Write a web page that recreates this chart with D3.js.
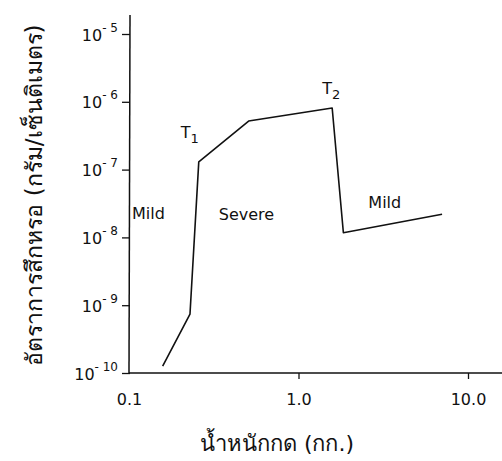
<!DOCTYPE html>
<html>
<head>
<meta charset="utf-8">
<script src="https://cdn.jsdelivr.net/npm/d3@7"></script>
<style>
  body { margin: 0; background: #fff; }
  svg { display: block; }
  .tick line { stroke: #111; stroke-width: 1.3; }
  .lbl { font-family: "DejaVu Sans", "Liberation Sans", sans-serif; fill: #111; }
</style>
</head>
<body>
<div class="svg-container"></div>
<script>
// page size
var pageWidth = 502,
    pageHeight = 461;

// plot box (pixel positions of the decades)
var x0 = 129, x1 = 468,     // 0.1 .. 10
    yTop = 34, yBot = 373;  // 1e-5 .. 1e-10

// data
var loadKg = [0.158, 0.229, 0.258, 0.508, 1.58, 1.84, 7.03];
var wearRate = [1.26e-10, 7.4e-10, 1.3e-7, 5.2e-7, 8.1e-7, 1.17e-8, 2.2e-8];

var xTickValues = [0.1, 1, 10];
var xTickLabels = ["0.1", "1.0", "10.0"];
var yTickValues = [1e-10, 1e-9, 1e-8, 1e-7, 1e-6, 1e-5];
var yTickExponents = ["-10", "-9", "-8", "-7", "-6", "-5"];

var regionLabels = ["Mild", "Severe", "Mild"];
var regionAt = [[0.1, 1.9e-8], [0.325, 1.8e-8], [2.48, 2.7e-8]];
var pointLabels = ["T", "T"];
var pointSubs = ["1", "2"];
var pointAt = [[0.202, 2.9e-7], [1.38, 1.3e-6]];

function plot() {
	var svg = d3.select(".svg-container")
		.append("svg")
		.attr("width", pageWidth)
		.attr("height", pageHeight);

	var xScale = d3.scaleLog().domain([0.1, 10]).range([x0, x1]);
	var yScale = d3.scaleLog().domain([1e-10, 1e-5]).range([yBot, yTop]);

	drawAxes(svg, xScale, yScale);
	drawLine(svg, xScale, yScale);
	drawLabels(svg, xScale, yScale);
}

function drawAxes(svg, x, y) {
	// axis lines
	svg.append("line")
		.attr("x1", x0 + 1).attr("x2", x0)
		.attr("y1", 15).attr("y2", yBot)
		.attr("stroke", "#111").attr("stroke-width", 1.5);
	svg.append("line")
		.attr("x1", x0).attr("x2", pageWidth)
		.attr("y1", yBot).attr("y2", yBot)
		.attr("stroke", "#111").attr("stroke-width", 1.5);

	// x axis
	var xAxis = d3.axisBottom(x)
		.tickValues(xTickValues)
		.tickSize(6)
		.tickPadding(15)
		.tickFormat(function(d, i) { return xTickLabels[i]; });
	var gx = svg.append("g")
		.attr("transform", "translate(0," + yBot + ")")
		.call(xAxis);
	gx.select(".domain").remove();
	gx.selectAll(".tick line").filter(function(d) { return d === 0.1; }).remove();
	gx.selectAll("text")
		.attr("class", "lbl")
		.style("font-size", "16px");

	// y axis
	var yAxis = d3.axisLeft(y)
		.tickValues(yTickValues)
		.tickSize(8)
		.tickPadding(4)
		.tickFormat(function() { return ""; });
	var gy = svg.append("g")
		.attr("transform", "translate(" + (x0 + 1) + ",0)")
		.call(yAxis);
	gy.select(".domain").remove();
	gy.selectAll(".tick text").each(function(d, i) {
		var t = d3.select(this)
			.attr("class", "lbl")
			.attr("dy", "0.38em")
			.style("font-size", "16px");
		t.append("tspan").text("10");
		t.append("tspan")
			.attr("dy", "-9")
			.style("font-size", "12px")
			.text(yTickExponents[i].replace("-", "- "));
	});

	// axis titles
	svg.append("text")
		.attr("class", "lbl")
		.attr("x", 277)
		.attr("y", 451)
		.attr("text-anchor", "middle")
		.style("font-size", "22px")
		.text("น้ำหนักกด (กก.)");

	svg.append("text")
		.attr("class", "lbl")
		.attr("transform", "translate(42,195) rotate(-90)")
		.attr("text-anchor", "middle")
		.style("font-size", "23px")
		.text("อัตราการสึกหรอ (กรัม/เซ็นติเมตร)");
}

function drawLine(svg, x, y) {
	var pts = loadKg.map(function(d, i) { return [d, wearRate[i]]; });
	var line = d3.line()
		.x(function(d) { return x(d[0]); })
		.y(function(d) { return y(d[1]); });
	svg.append("path")
		.datum(pts)
		.attr("fill", "none")
		.attr("stroke", "#111")
		.attr("stroke-width", 1.6)
		.attr("stroke-linejoin", "round")
		.attr("d", line);
}

function drawLabels(svg, x, y) {
	svg.selectAll(".region")
		.data(regionLabels)
		.enter()
		.append("text")
		.attr("class", "lbl")
		.attr("x", function(d, i) { return x(regionAt[i][0]) + 3; })
		.attr("y", function(d, i) { return y(regionAt[i][1]); })
		.style("font-size", "16px")
		.text(function(d) { return d; });

	pointLabels.forEach(function(p, i) {
		var t = svg.append("text")
			.attr("class", "lbl")
			.attr("x", x(pointAt[i][0]))
			.attr("y", y(pointAt[i][1]))
			.style("font-size", "16px");
		t.append("tspan").text(p);
		t.append("tspan")
			.attr("dy", "0.35em")
			.style("font-size", "13px")
			.text(pointSubs[i]);
	});
}

plot();
</script>
</body>
</html>
